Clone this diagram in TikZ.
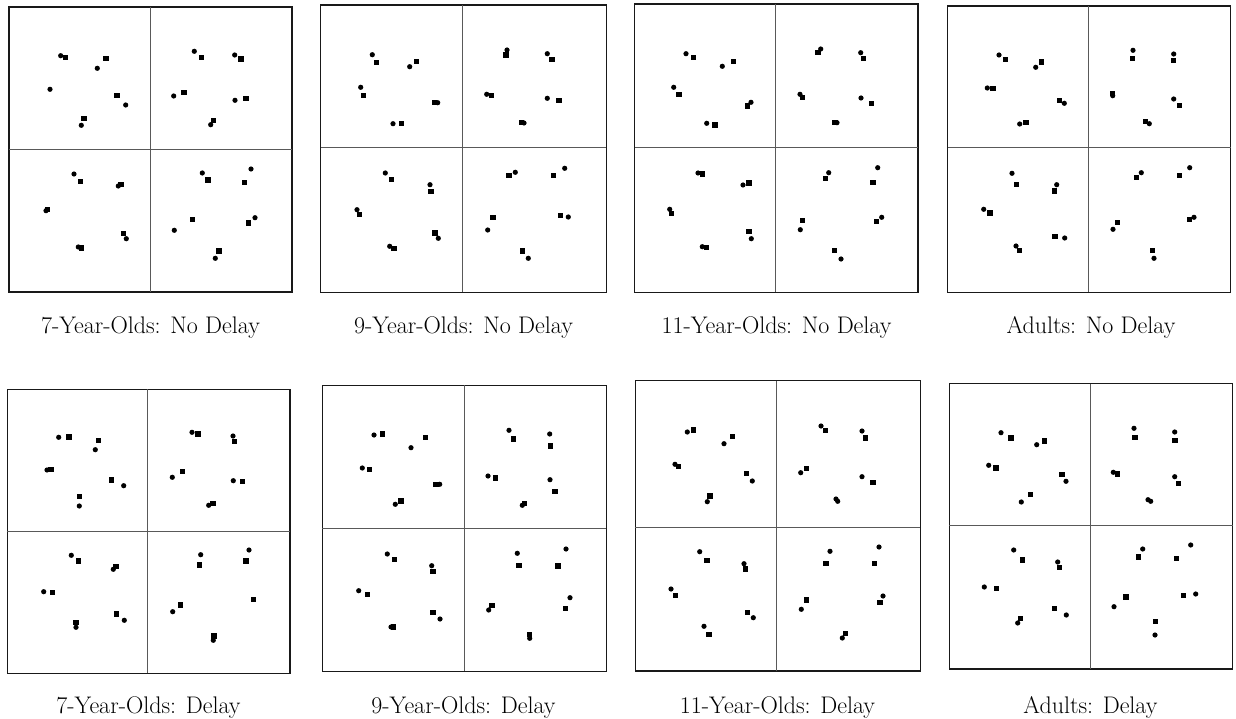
\documentclass[tikz,border=0pt]{standalone}
\newcommand{\mycirc}[2]{\fill[black] (#1,#2) circle[radius=2.6pt];}
\newcommand{\mysq}[2]{\fill[black] (#1-2.6,#2-2.6) rectangle ++(5.2,5.2);}
\tikzset{frame/.style={draw=black!90,line width=1.3pt},
  divider/.style={draw=black!65,line width=0.7pt},
  caption/.style={font=\fontsize{24}{28}\selectfont,anchor=base}}
\begin{document}
\begin{tikzpicture}[x=1pt,y=-1pt]
\useasboundingbox[fill=white] (0,0) rectangle (1236,719);
% ---------- Panel 1: 7 no delay
\draw[frame] (9,7) rectangle (292,292);
\draw[divider] (150,7) -- (150,292) (9,149) -- (292,149);
\mycirc{60.7}{55.7}\mysq{65.7}{57.3}\mysq{106}{58.7}\mycirc{97.3}{68.3}\mycirc{50}{89.3}
\mysq{117}{95.7}\mycirc{125.7}{105}\mysq{84}{118.3}\mycirc{81.3}{125.3}
\mycirc{194.3}{51.3}\mysq{201.3}{57.7}\mycirc{234.7}{55}\mysq{241}{59}\mycirc{173.7}{96}
\mysq{184}{92.7}\mycirc{235}{100.3}\mysq{246}{98.7}\mysq{213.3}{120.7}\mycirc{210.7}{124.7}
\mycirc{74}{174}\mysq{80.7}{181.7}\mycirc{118.3}{186}\mysq{121}{184.3}\mycirc{46}{210.7}\mysq{47.3}{209.3}
\mycirc{78.3}{247}\mysq{81.3}{248}\mysq{123.7}{233.7}\mycirc{126.3}{238.7}
\mycirc{202.3}{173}\mysq{208}{180}\mycirc{251}{169}\mysq{244.7}{182.7}\mysq{192.3}{219.3}
\mycirc{174.3}{230.3}\mycirc{255}{217.7}\mysq{248.3}{223}\mysq{219}{251}\mycirc{215.3}{258.3}
\node[caption] (c1) at (150.5,333) {7-Year-Olds: No Delay};
% ---------- Panel 2: 9 no delay
\draw[frame] (320.7,5) rectangle (606.3,292.3);
\draw[divider] (462.7,5) -- (462.7,292.3) (320.7,147.7) -- (606.3,147.7);
\mycirc{372.3}{54.7}\mysq{376.3}{62.7}\mysq{416.7}{61.7}\mycirc{409.7}{66.7}\mycirc{360.7}{87.3}
\mysq{363.3}{95.7}\mysq{434.7}{102.7}\mycirc{437.7}{102.7}\mycirc{393}{123.7}\mysq{401.3}{123.7}
\mycirc{507}{50}\mysq{506}{55}\mycirc{547.3}{53.7}\mysq{552}{59.3}\mycirc{486.7}{94.3}\mysq{491.3}{95.7}
\mycirc{547.3}{98.3}\mysq{559}{100.7}\mysq{521.7}{122.3}\mycirc{524}{123}
\mycirc{385.3}{173}\mysq{391.3}{179.7}\mycirc{430}{184.7}\mysq{431}{191.3}\mycirc{357}{209.7}
\mysq{359.3}{214.3}\mysq{435}{233}\mycirc{438.3}{238.3}\mycirc{389.7}{246.3}\mysq{394}{248.7}
\mysq{509}{175.3}\mycirc{515.3}{172.3}\mycirc{564.7}{168.3}\mysq{553.3}{175.7}\mysq{493}{217.3}
\mycirc{487.7}{230}\mysq{560.7}{215.3}\mycirc{568.3}{217}\mysq{522.3}{251}\mycirc{528.3}{258.3}
\node[caption] (c2) at (463.5,333) {9-Year-Olds: No Delay};
% ---------- Panel 3: 11 no delay
\draw[frame] (634.7,4) rectangle (918,292.3);
\draw[divider] (775.7,4) -- (775.7,292.3) (634.7,147.7) -- (918,147.7);
\mycirc{686}{53.7}\mysq{693.3}{57.7}\mysq{733.7}{61.3}\mycirc{722.3}{66.3}\mycirc{673.7}{87.3}
\mysq{679}{94.3}\mysq{747.7}{106}\mycirc{751}{102.3}\mycirc{706.7}{123.3}\mysq{715}{125}
\mycirc{820.7}{49}\mysq{818}{52.7}\mycirc{860.7}{52.7}\mysq{863.7}{58.3}\mycirc{800}{94.3}\mysq{802.3}{97.7}
\mycirc{861}{98}\mysq{871.7}{103.7}\mysq{835}{122.7}\mycirc{837}{122.7}
\mycirc{698}{173}\mysq{702.7}{174}\mycirc{743}{185}\mysq{749}{183}\mycirc{669.7}{209.3}\mysq{671.3}{213.3}
\mysq{749}{231.7}\mycirc{751.3}{238.7}\mycirc{702.3}{246.7}\mysq{706.7}{247.7}
\mycirc{828.7}{172.7}\mysq{825.3}{178.3}\mycirc{877.7}{167.7}\mysq{873}{182.7}\mysq{802.7}{220.3}
\mycirc{800.3}{229.7}\mycirc{881.7}{217.3}\mysq{876.3}{221.3}\mysq{834.3}{250.7}\mycirc{841}{259}
\node[caption] (c3) at (776.5,333) {11-Year-Olds: No Delay};
% ---------- Panel 4: adults no delay
\draw[frame] (947.7,6) rectangle (1230.7,292.3);
\draw[divider] (1088.7,6) -- (1088.7,292.3) (947.7,147.7) -- (1230.7,147.7);
\mycirc{999}{55}\mysq{1005.3}{59.3}\mysq{1041.3}{62}\mycirc{1035.7}{67.3}\mycirc{987.3}{88}\mysq{993}{88.7}
\mysq{1059.7}{100.7}\mycirc{1064.3}{103.3}\mycirc{1019.7}{124}\mysq{1026}{122.3}
\mycirc{1133}{50.3}\mysq{1132.3}{58.7}\mycirc{1173.7}{54}\mysq{1173.7}{60.7}\mysq{1112.7}{93.3}\mycirc{1112.7}{95.7}
\mycirc{1173.7}{99}\mysq{1179.3}{105.3}\mysq{1145.3}{121.7}\mycirc{1149.3}{123.7}
\mycirc{1012}{173.3}\mysq{1016.7}{184.3}\mycirc{1056.7}{184.7}\mysq{1054.7}{191}\mycirc{983.7}{209.3}
\mysq{990}{213}\mysq{1055}{236.7}\mycirc{1064.7}{238}\mycirc{1016}{246}\mysq{1019.3}{250.7}
\mysq{1136.3}{177.7}\mycirc{1141.3}{172.7}\mycirc{1189.7}{167.7}\mysq{1179.7}{175.7}\mysq{1117.3}{222.7}
\mycirc{1113}{229.3}\mysq{1189.3}{219.7}\mycirc{1194}{217.3}\mysq{1152.7}{250.3}\mycirc{1154}{258.3}
\node[caption] (c4) at (1091,333) {Adults: No Delay};
% ---------- Panel 5: 7 delay
\draw[frame] (7.3,389.3) rectangle (290,673.3);
\draw[divider] (147.7,389.3) -- (147.7,673.3) (7.3,531) -- (290,531);
\mycirc{58.7}{437.3}\mysq{69}{437}\mysq{98.7}{440.7}\mycirc{95.3}{449.7}\mycirc{47}{470}\mysq{51}{469.3}
\mysq{111.3}{480}\mycirc{123.7}{485.7}\mysq{79.3}{496.3}\mycirc{79.3}{506}
\mycirc{192}{432.3}\mysq{198}{434}\mycirc{233}{436}\mysq{234.3}{441.7}\mysq{182.3}{471.7}\mycirc{172.3}{477.3}
\mycirc{233.3}{480.7}\mysq{242.7}{481.7}\mycirc{208.7}{505.3}\mysq{213}{503.7}
\mycirc{71.3}{555.3}\mysq{78.7}{561}\mycirc{113.3}{569.3}\mysq{116}{566.7}\mycirc{43.7}{591.7}\mysq{52.3}{592.3}
\mysq{76}{622.3}\mycirc{76}{627.3}\mysq{116.3}{614}\mycirc{124.3}{620.3}
\mycirc{200.7}{554.7}\mysq{199.7}{565}\mycirc{249}{550}\mysq{246}{561}\mysq{180.7}{605}\mycirc{172.7}{611.7}
\mysq{253.3}{599.7}\mysq{214}{636}\mycirc{213.3}{640.3}
\node[caption] (c5) at (148.5,713) {7-Year-Olds: Delay};
% ---------- Panel 6: 9 delay
\draw[frame] (322.3,385.3) rectangle (606.3,671.3);
\draw[divider] (464.7,385.3) -- (464.7,671.3) (322.3,528.7) -- (606.3,528.7);
\mycirc{374}{435}\mysq{382.7}{434}\mysq{425.3}{437.3}\mycirc{411}{447.7}\mycirc{362.3}{468}\mysq{369.7}{469.3}
\mysq{436}{484.3}\mycirc{439.7}{484.3}\mycirc{395.3}{504.3}\mysq{401}{501}
\mycirc{509}{430.3}\mysq{513.7}{439}\mycirc{549.7}{434}\mysq{550.3}{446}\mycirc{488}{476}\mysq{495.3}{478}
\mycirc{550}{479.7}\mysq{555}{491.7}\mycirc{522.3}{505.3}\mysq{524.7}{503.3}
\mycirc{387.3}{554}\mysq{394.7}{559.3}\mycirc{431.7}{565.7}\mysq{433}{571.7}\mycirc{358.7}{590.7}\mysq{367.7}{594.7}
\mysq{433}{612.7}\mycirc{440}{619}\mycirc{391}{627}\mysq{393.7}{627}
\mycirc{517.3}{553.3}\mysq{519}{565.3}\mycirc{566}{549}\mysq{558}{566}\mycirc{570}{597.7}\mysq{565.3}{608.7}
\mysq{492}{605.7}\mycirc{488.7}{610}\mysq{529.7}{634.3}\mycirc{529.7}{638.3}
\node[caption] (c6) at (463.5,713) {9-Year-Olds: Delay};
% ---------- Panel 7: 11 delay
\draw[frame] (635.3,380.7) rectangle (920.3,671);
\draw[divider] (776.7,380.7) -- (776.7,671) (635.3,527.3) -- (920.3,527.3);
\mycirc{687.3}{432}\mysq{693.3}{430}\mysq{732.7}{436.3}\mycirc{724}{443.7}\mycirc{675}{464.3}\mysq{678.3}{466.3}
\mysq{746.7}{473.7}\mycirc{752.3}{481}\mysq{710}{496}\mycirc{707.3}{501.7}
\mycirc{821}{426}\mysq{825.3}{430.3}\mycirc{862}{431}\mysq{865.7}{438}\mycirc{800.7}{472.7}\mysq{806.7}{468.7}
\mycirc{862}{476.7}\mysq{873}{482.7}\mycirc{836}{499}\mycirc{837.7}{501.3}
\mycirc{699.7}{551.7}\mysq{707}{560.3}\mycirc{744}{563.7}\mysq{745.7}{569}\mycirc{671}{589}\mysq{675.7}{595.3}
\mysq{747.3}{612.7}\mycirc{753.3}{617.7}\mycirc{704}{626.3}\mysq{709}{634.3}
\mycirc{830}{551.3}\mysq{826}{563.3}\mycirc{879}{547}\mysq{874.3}{563.3}\mysq{806.7}{600}\mycirc{801.3}{609.3}
\mycirc{883}{596}\mysq{880}{602.7}\mysq{845.3}{633.3}\mycirc{842.3}{638}
\node[caption] (c7) at (777.5,713) {11-Year-Olds: Delay};
% ---------- Panel 8: adults delay
\draw[frame] (949.3,383.7) rectangle (1232.7,669);
\draw[divider] (1090,383.7) -- (1090,669) (949.3,525.7) -- (1232.7,525.7);
\mycirc{1001}{432.7}\mysq{1011}{438}\mycirc{1036.7}{444.7}\mysq{1044.7}{441}\mycirc{988.7}{465.3}\mysq{996}{468}
\mysq{1062}{474.7}\mycirc{1066}{481.3}\mycirc{1021.3}{502}\mysq{1030.3}{494.7}
\mycirc{1134}{428.3}\mysq{1135}{437.3}\mycirc{1174.7}{432}\mysq{1175}{440.7}\mycirc{1113.3}{472.3}\mysq{1117.7}{474}
\mycirc{1174.7}{476.7}\mysq{1178.3}{483.3}\mycirc{1148}{499.7}\mycirc{1150.7}{501.3}
\mycirc{1013.7}{550}\mysq{1022.3}{560}\mycirc{1057.7}{562}\mysq{1059.3}{567.7}\mycirc{984.3}{587}\mysq{996.3}{588.3}
\mysq{1054.3}{608.3}\mycirc{1066.3}{615}\mysq{1020.3}{618.3}\mycirc{1017.7}{623}
\mycirc{1142.7}{549}\mysq{1138.7}{557}\mycirc{1190.7}{545}\mysq{1176.7}{558.3}\mysq{1126}{597}\mycirc{1114}{606.7}
\mysq{1183.3}{595.3}\mycirc{1195.7}{594}\mysq{1155.7}{621.7}\mycirc{1155}{635}
\node[caption] (c8) at (1090.5,713) {Adults: Delay};
\end{tikzpicture}
\end{document}
